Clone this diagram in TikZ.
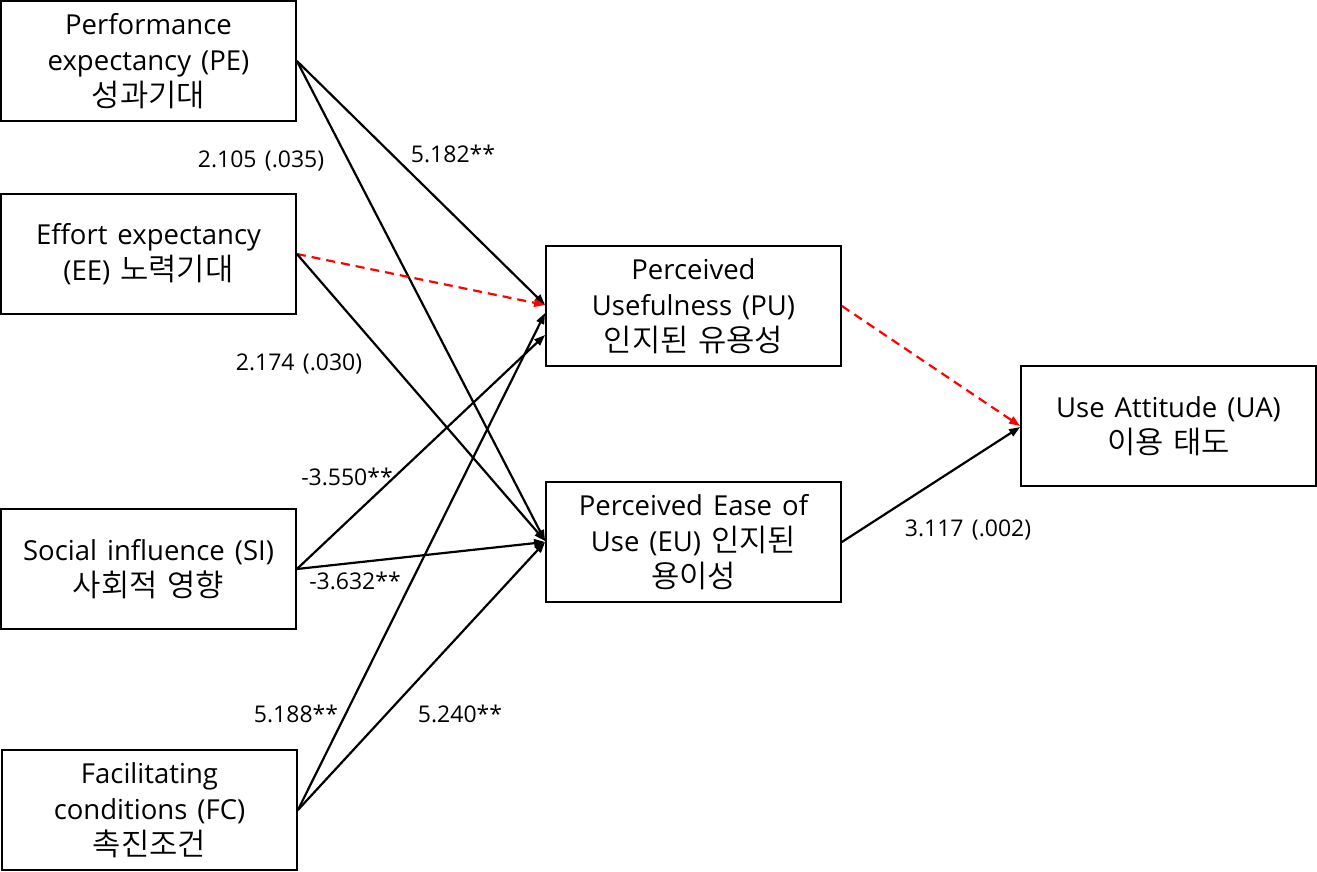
\documentclass[tikz,border=0pt]{standalone}
\usepackage{fontspec}
\setmainfont{Open Sans}[WordSpace=1.4]
\newfontfamily\kr{Noto Sans CJK KR DemiLight}[WordSpace=1.4,Scale=1.12]
\usetikzlibrary{arrows.meta,calc}
\tikzset{
  box/.style={draw,line width=1.8pt,minimum width=295pt,minimum height=120pt,inner sep=0pt,align=center,font=\fontsize{27.5}{36}\selectfont},
  lbl/.style={font=\fontsize{23}{26}\selectfont,inner sep=0pt},
  conn/.style={line width=2.2pt,-{Triangle[length=11pt,width=8pt]}},
  sig/.style={conn,red,dash pattern=on 9pt off 6pt}
}
\begin{document}
\begin{tikzpicture}[x=1pt,y=-1pt]
\useasboundingbox (0,0) rectangle (1317,872);
\node[box] (pe) at (148.5,61) {Performance\\expectancy (PE)\\{\kr 성과기대}};
\node[box] (ee) at (148.5,254) {Effort expectancy\\(EE) {\kr 노력기대}};
\node[box] (si) at (148.5,569) {Social influence (SI)\\{\kr 사회적 영향}};
\node[box] (fc) at (149.5,810) {Facilitating\\conditions (FC)\\{\kr 촉진조건}};
\node[box] (pu) at (693.5,306) {Perceived\\Usefulness (PU)\\{\kr 인지된 유용성}};
\node[box] (eu) at (693.5,542) {Perceived Ease of\\Use (EU) {\kr 인지된}\\{\kr 용이성}};
\node[box] (ua) at (1168.5,426) {Use Attitude (UA)\\{\kr 이용 태도}};
\coordinate (puA) at ($(pu.west)+(0,-1)$);
\coordinate (puB) at ($(pu.west)+(0,7)$);
\coordinate (puC) at ($(pu.west)+(0,29)$);
\coordinate (euA) at ($(eu.west)+(0,-1)$);
\coordinate (uaA) at ($(ua.west)+(0,1)$);
\draw[conn] (pe.east) -- (puA);
\draw[conn] (pe.east) -- (euA);
\draw[sig] (ee.east) -- (puA);
\draw[conn] (ee.east) -- (euA);
\draw[conn] (si.east) -- (puC);
\draw[conn] (si.east) -- (eu.west);
\draw[conn] (fc.east) -- (puB);
\draw[conn] (fc.east) -- (eu.west);
\draw[sig] (pu.east) -- (ua.west);
\draw[conn] (eu.east) -- (uaA);
\node[lbl] (l1) at (261,161) {2.105 (.035)};
\node[lbl] (l2) at (453,154) {5.182**};
\node[lbl] (l3) at (299,364) {2.174 (.030)};
\node[lbl] (l4) at (347,477) {-3.550**};
\node[lbl] (l5) at (355,581) {-3.632**};
\node[lbl] (l6) at (296,714) {5.188**};
\node[lbl] (l7) at (460,714) {5.240**};
\node[lbl] (l8) at (968,530) {3.117 (.002)};
\end{tikzpicture}
\end{document}
